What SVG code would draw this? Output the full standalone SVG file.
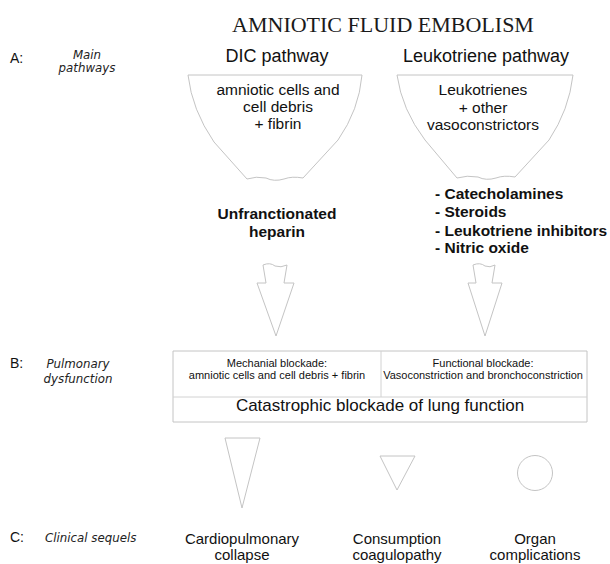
<svg xmlns="http://www.w3.org/2000/svg" width="610" height="564" viewBox="0 0 610 564">
<style>
  .t { font-family: "Liberation Sans", Arial, sans-serif; fill: #111; }
  .c { text-anchor: middle; }
  .it { font-family: "DejaVu Sans", Verdana, sans-serif; font-style: italic; font-size: 11.8px; fill: #222; }
  .lbl { font-family: "Liberation Sans", Arial, sans-serif; font-size: 14px; fill: #111; }
  .shape { fill: #fff; stroke: #c4c4c4; stroke-width: 1; stroke-linejoin: round; }
  .b { font-weight: bold; font-size: 15.5px; }
  .bot { font-size: 15px; }
</style>
<rect width="610" height="564" fill="#fff"/>

<text x="383" y="32" text-anchor="middle" font-family="'Liberation Serif', 'Times New Roman', serif" font-size="22" fill="#1a1a1a">AMNIOTIC FLUID EMBOLISM</text>

<g id="labels">
  <text class="lbl" x="10" y="63">A:</text>
  <text class="it" x="87" y="59" text-anchor="middle">Main</text>
  <text class="it" x="87" y="72" text-anchor="middle">pathways</text>
  <text class="lbl" x="10" y="368">B:</text>
  <text class="it" x="78" y="368" text-anchor="middle">Pulmonary</text>
  <text class="it" x="78" y="383" text-anchor="middle">dysfunction</text>
  <text class="lbl" x="10" y="542">C:</text>
  <text class="it" x="45" y="542">Clinical sequels</text>
</g>

<g id="dic-pathway">
  <text class="t c" x="277" y="62" font-size="18">DIC pathway</text>
  <path class="shape" d="M188,75 L362,75 Q359,110 338,140 L303,178 Q292,176 284,179 Q274,182 266,178 Q256,176 247,179 L214,142 Q192,110 188,75 Z"/>
  <text class="t c" x="278" y="95" font-size="15.5">amniotic cells and</text>
  <text class="t c" x="278" y="112" font-size="15.5">cell debris</text>
  <text class="t c" x="278" y="129" font-size="15.5">+ fibrin</text>
</g>

<g id="leukotriene-pathway">
  <text class="t c" x="486" y="62" font-size="18">Leukotriene pathway</text>
  <path class="shape" d="M397,75 L573,75 Q569,110 549,140 L515,177 Q504,175 496,178 Q486,181 478,177 Q467,175 457,178 L425,140 Q402,110 397,75 Z"/>
  <text class="t c" x="483" y="95" font-size="15.5">Leukotrienes</text>
  <text class="t c" x="483" y="113" font-size="15.5">+ other</text>
  <text class="t c" x="483" y="130" font-size="15.5">vasoconstrictors</text>
</g>

<g id="heparin">
  <text class="t c b" x="277" y="219">Unfranctionated</text>
  <text class="t c b" x="277" y="237">heparin</text>
</g>

<g id="treatments">
  <text class="t b" x="435" y="199">- Catecholamines</text>
  <text class="t b" x="435" y="217">- Steroids</text>
  <text class="t b" x="435" y="236">- Leukotriene inhibitors</text>
  <text class="t b" x="435" y="253">- Nitric oxide</text>
</g>

<g id="connectors">
  <path class="shape" d="M263,265 Q270,262 275,266 Q281,268 287,265 L284,283 L294,283 L276,336 L257,283 L266,283 Z"/>
  <path class="shape" d="M473,265 Q480,262 485,266 Q490,268 495,265 L492,283 L502,283 L485,336 L468,283 L476,283 Z"/>
</g>

<g id="pulmonary-table">
  <rect class="shape" x="173" y="351" width="414" height="71" stroke="#d2d2d2"/>
  <line x1="173" y1="397" x2="587" y2="397" stroke="#d2d2d2"/>
  <line x1="381" y1="351" x2="381" y2="397" stroke="#d2d2d2"/>
  <text class="t c" x="277" y="367" font-size="11">Mechanial blockade:</text>
  <text class="t c" x="277" y="379" font-size="11">amniotic cells and cell debris + fibrin</text>
  <text class="t c" x="483" y="367" font-size="11">Functional blockade:</text>
  <text class="t c" x="483" y="379" font-size="11">Vasoconstriction and bronchoconstriction</text>
  <text class="t c" x="380" y="411" font-size="17">Catastrophic blockade of lung function</text>
</g>

<g id="cardiopulmonary">
  <path class="shape" d="M225,438 L260,438 L242,508 Z"/>
  <text class="t c bot" x="242" y="544">Cardiopulmonary</text>
  <text class="t c bot" x="242" y="560">collapse</text>
</g>

<g id="coagulopathy">
  <path class="shape" d="M380,456 L415,456 L397,490 Z"/>
  <text class="t c bot" x="397" y="544">Consumption</text>
  <text class="t c bot" x="397" y="560">coagulopathy</text>
</g>

<g id="organ">
  <circle class="shape" cx="535" cy="473" r="17.5"/>
  <text class="t c bot" x="535" y="544">Organ</text>
  <text class="t c bot" x="535" y="560">complications</text>
</g>
</svg>
